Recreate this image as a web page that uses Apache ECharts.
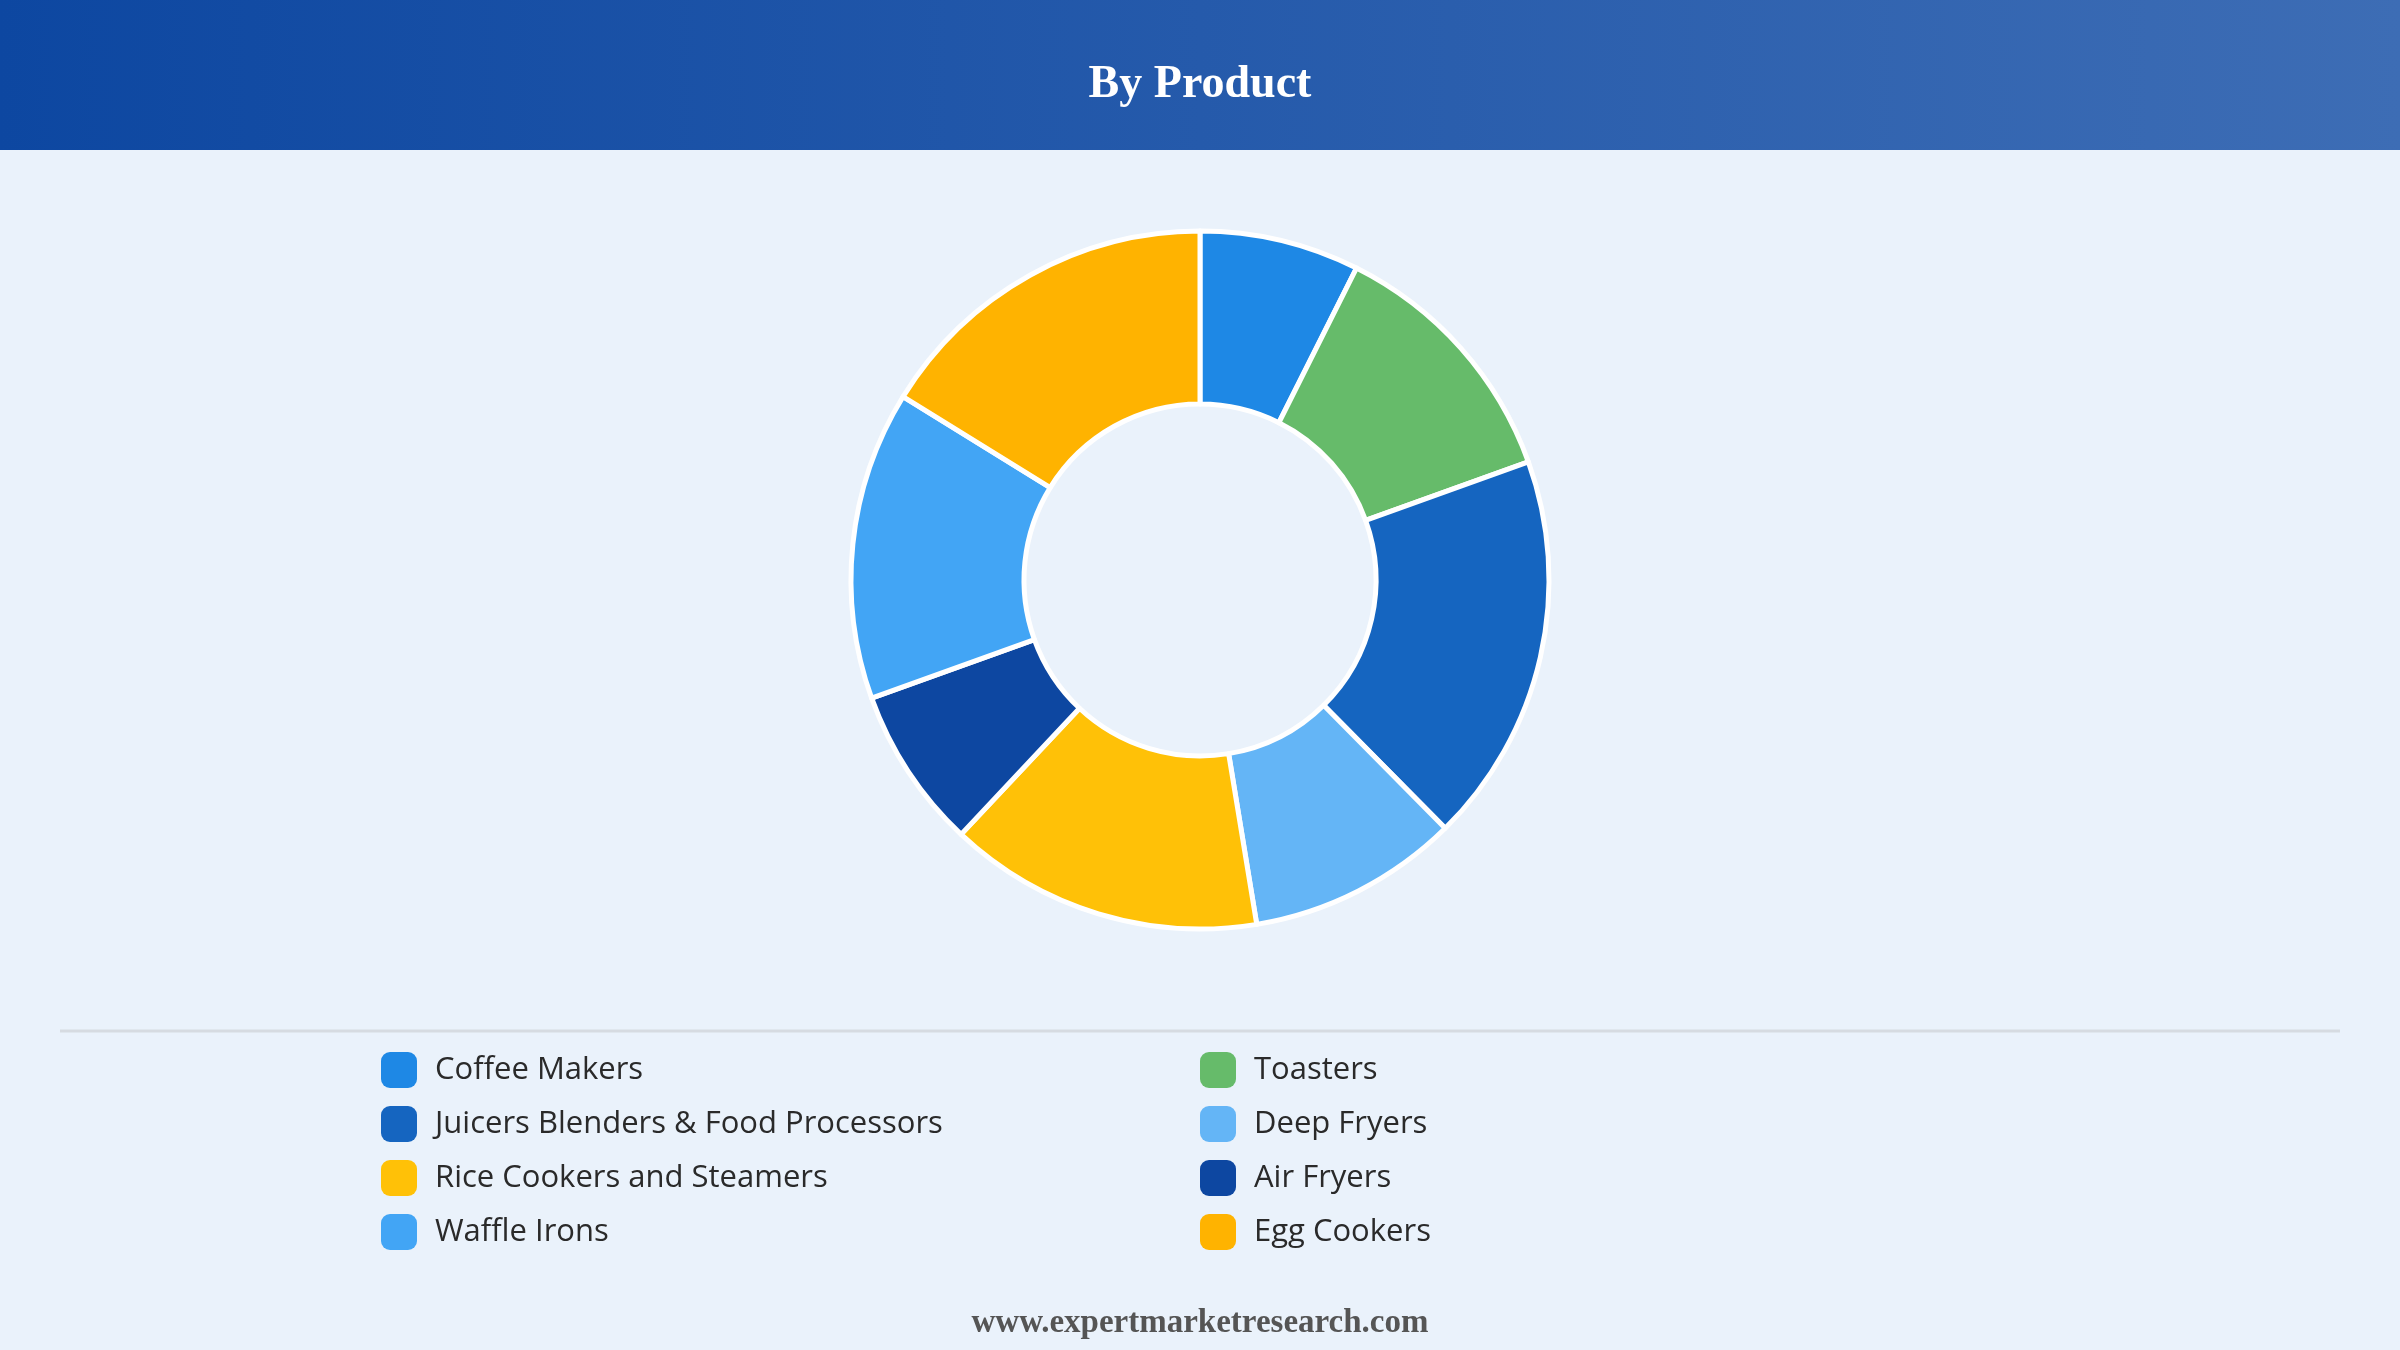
<!DOCTYPE html>
<html>
<head>
<meta charset="utf-8">
<script src="https://cdn.jsdelivr.net/npm/echarts@6/dist/echarts.min.js"></script>
<style>
html,body{margin:0;padding:0;background:#EAF2FB;}
#chart{width:2400px;height:1350px;}
</style>
</head>
<body>
<div id="chart"></div>
<script>
const title = 'By Product';
const footer = 'www.expertmarketresearch.com';
const categories = ['Coffee Makers','Toasters','Juicers Blenders & Food Processors','Deep Fryers','Rice Cookers and Steamers','Air Fryers','Waffle Irons','Egg Cookers'];
const values = [7.4, 12.1, 18.1, 9.8, 14.6, 7.5, 14.3, 16.2];
const colors = ['#1E88E5','#66BB6A','#1565C0','#64B5F6','#FFC107','#0D47A1','#42A5F5','#FFB300'];
const legendCol1 = ['Coffee Makers','Juicers Blenders & Food Processors','Rice Cookers and Steamers','Waffle Irons'];
const legendCol2 = ['Toasters','Deep Fryers','Air Fryers','Egg Cookers'];

const chart = echarts.init(document.getElementById('chart'));
const legendBase = {
  orient: 'vertical',
  top: 1047,
  itemWidth: 36,
  itemHeight: 36,
  itemGap: 18,
  icon: 'roundRect',
  itemStyle: {borderWidth: 0},
  textStyle: {fontFamily: 'Open Sans', fontSize: 31, color: '#2a2a2a', padding: [0,0,0,13]}
};
chart.setOption({
  backgroundColor: '#EAF2FB',
  color: colors,
  animation: false,
  legend: [
    Object.assign({}, legendBase, {left: 376, data: legendCol1}),
    Object.assign({}, legendBase, {left: 1195, data: legendCol2})
  ],
  graphic: [
    {type: 'rect', left: 0, top: 0, shape: {width: 2400, height: 150}, z: 0,
     style: {fill: new echarts.graphic.LinearGradient(0,0,1,0,[{offset:0,color:'#0D47A1'},{offset:1,color:'#3D6DB5'}])}},
    {type: 'text', left: 'center', top: 62, z: 1,
     style: {text: title, fill: '#ffffff', font: 'bold 46px "Liberation Serif", "Times New Roman", serif'}},
    {type: 'line', z: 1, shape: {x1: 60, y1: 1031, x2: 2340, y2: 1031},
     style: {stroke: '#d6dbe1', lineWidth: 3}},
    {type: 'text', left: 'center', top: 1307, z: 1,
     style: {text: footer, fill: '#555555', font: 'bold 33px "Liberation Serif", "Times New Roman", serif'}}
  ],
  series: [{
    type: 'pie',
    center: [1200, 580],
    radius: [176, 349],
    startAngle: 90,
    clockwise: true,
    label: {show: false},
    labelLine: {show: false},
    itemStyle: {borderColor: '#ffffff', borderWidth: 5},
    emphasis: {disabled: true},
    data: categories.map((c, i) => ({name: c, value: values[i]}))
  }]
});
</script>
</body>
</html>
